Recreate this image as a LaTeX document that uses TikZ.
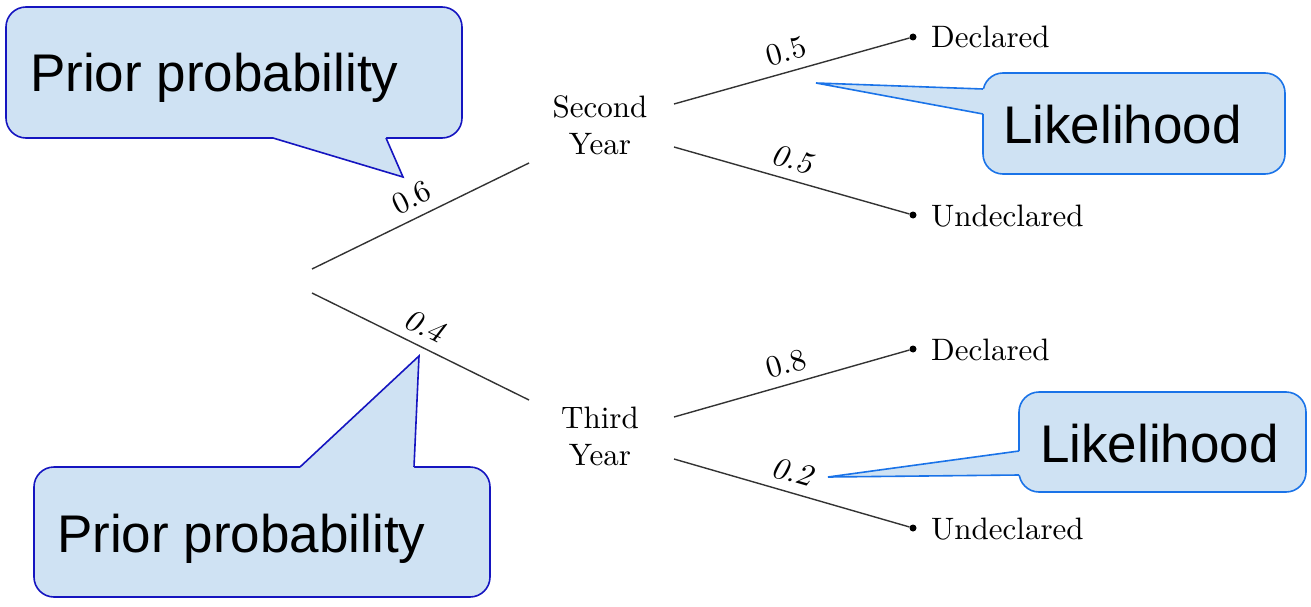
\documentclass[tikz,border=0pt]{standalone}
\usepackage{fontspec}
\setmainfont{lmroman10-regular.otf}
\newfontfamily\calloutfont{Liberation Sans}
\newfontfamily\slantfont[FakeSlant=0.2]{lmroman10-regular.otf}
\usetikzlibrary{calc}
\definecolor{cfill}{HTML}{CFE2F3}
\definecolor{cdark}{HTML}{1515C0}
\definecolor{clight}{HTML}{1A73E8}
\definecolor{tline}{HTML}{333333}
\begin{document}
\begin{tikzpicture}[x=1pt,y=-1pt,
  calloutbox/.style={fill=cfill, rounded corners=20pt, line width=1.6pt, inner sep=0pt},
  callouttext/.style={font=\calloutfont\fontsize{53}{60}\selectfont, inner sep=0pt, anchor=base west},
  pointerline/.style={line width=1.6pt, line join=miter},
  branch/.style={draw=tline, line width=1.4pt},
  treetext/.style={font=\fontsize{31}{37}\selectfont, inner sep=0pt, align=center},
  leaf/.style={circle, fill=black, inner sep=0pt, minimum size=7pt},
  leaftext/.style={font=\fontsize{31}{37}\selectfont, inner sep=0pt, anchor=base west},
  prob/.style={font=\fontsize{31}{37}\selectfont, sloped, inner sep=1pt, above=8pt},
  probsl/.style={font=\slantfont\fontsize{31}{37}\selectfont, sloped, inner sep=1pt, above=8pt}
]
\useasboundingbox (0,0) rectangle (1311,607);

% ---- tree ----
\node[treetext] (sy) at (600,125) {Second\\Year};
\node[treetext] (ty) at (600,436) {Third\\Year};
\coordinate (r1) at (312,269);
\coordinate (r2) at (312,293);
\coordinate (syin) at (529,163);
\coordinate (tyin) at (529,400);
\coordinate (syo1) at (674,104);
\coordinate (syo2) at (674,147);
\coordinate (tyo1) at (674,417);
\coordinate (tyo2) at (674,459);
\node[leaf] (d1) at (913,37) {};
\node[leaf] (u1) at (913,215) {};
\node[leaf] (d2) at (913,349) {};
\node[leaf] (u2) at (913,528) {};
\node[leaftext] (d1t) at ($(d1)+(18,11)$) {Declared};
\node[leaftext] (u1t) at ($(u1)+(18,11)$) {Undeclared};
\node[leaftext] (d2t) at ($(d2)+(18,11)$) {Declared};
\node[leaftext] (u2t) at ($(u2)+(18,11)$) {Undeclared};

\draw[branch] (r1) -- node[prob, pos=.5] (l06) {0.6} (syin);
\draw[branch] (r2) -- node[probsl, pos=.48] (l04) {0.4} (tyin);
\draw[branch] (syo1) -- node[prob, pos=.5] (l05a) {0.5} (d1);
\draw[branch] (syo2) -- node[probsl, pos=.48] (l05b) {0.5} (u1);
\draw[branch] (tyo1) -- node[prob, pos=.5] (l08) {0.8} (d2);
\draw[branch] (tyo2) -- node[probsl, pos=.48] (l02) {0.2} (u2);

% ---- callout 1 (top-left) ----
\node[calloutbox, draw=cdark, minimum width=456pt, minimum height=131pt] (c1) at (234,72.5) {};
\coordinate (c1a) at (273,138);
\coordinate (c1b) at (386,138);
\coordinate (c1t) at (403,177);
\fill[cfill] ($(c1a)+(0,-3)$) -- (c1a) -- (c1t) -- (c1b) -- ($(c1b)+(0,-3)$) -- cycle;
\draw[pointerline, draw=cdark] (c1a) -- (c1t) -- (c1b);
\node[callouttext] (t1) at (30,92) {Prior probability};

% ---- callout 3 (bottom-left) ----
\node[calloutbox, draw=cdark, minimum width=456pt, minimum height=130pt] (c3) at (262,532) {};
\coordinate (c3a) at (300,467);
\coordinate (c3b) at (414,467);
\coordinate (c3t) at (419,356);
\fill[cfill] ($(c3a)+(0,3)$) -- (c3a) -- (c3t) -- (c3b) -- ($(c3b)+(0,3)$) -- cycle;
\draw[pointerline, draw=cdark] (c3a) -- (c3t) -- (c3b);
\node[callouttext] (t3) at (57,552) {Prior probability};

% ---- callout 2 (top-right) ----
\node[calloutbox, draw=clight, minimum width=302pt, minimum height=101pt] (c2) at (1134,123.5) {};
\coordinate (c2a) at (983,89);
\coordinate (c2b) at (983,114);
\coordinate (c2t) at (816,83);
\fill[cfill] ($(c2a)+(3,0)$) -- (c2a) -- (c2t) -- (c2b) -- ($(c2b)+(3,0)$) -- cycle;
\draw[pointerline, draw=clight] (c2a) -- (c2t) -- (c2b);
\node[callouttext] (t2) at (1003,143) {Likelihood};

% ---- callout 4 (bottom-right) ----
\node[calloutbox, draw=clight, minimum width=287pt, minimum height=100pt] (c4) at (1162.5,442) {};
\coordinate (c4a) at (1019,451);
\coordinate (c4b) at (1019,475);
\coordinate (c4t) at (828,477);
\fill[cfill] ($(c4a)+(3,0)$) -- (c4a) -- (c4t) -- (c4b) -- ($(c4b)+(3,0)$) -- cycle;
\draw[pointerline, draw=clight] (c4a) -- (c4t) -- (c4b);
\node[callouttext] (t4) at (1040,462) {Likelihood};
\end{tikzpicture}
\end{document}
